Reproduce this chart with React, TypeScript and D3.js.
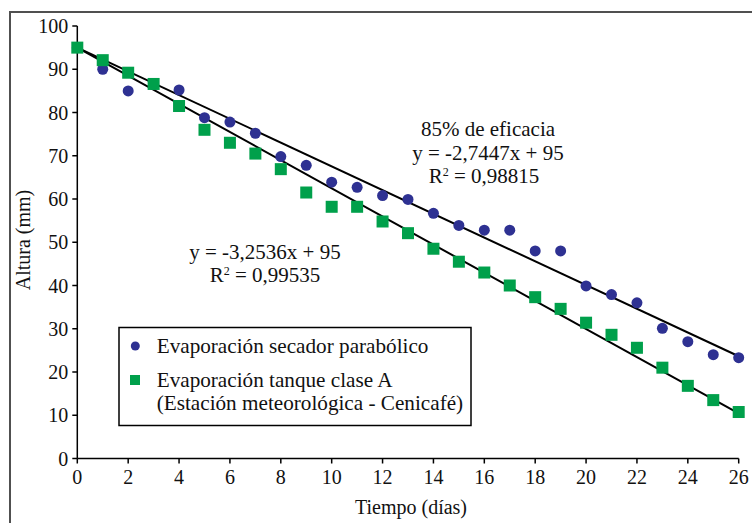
import React from "react";
import * as d3 from "d3";

const days = d3.range(0, 27);
const secador = [95, 90, 85, 86.5, 85.2, 78.8, 77.8, 75.2, 69.8, 67.8, 63.9, 62.7, 60.8, 59.9, 56.7, 53.9, 52.8, 52.8, 48, 48, 39.9, 37.9, 36.0, 30.1, 27.0, 24.0, 23.3];
const tanque = [95, 92.1, 89.2, 86.6, 81.5, 76.0, 73.0, 70.5, 66.9, 61.5, 58.2, 58.2, 54.8, 52.1, 48.5, 45.5, 43.0, 40.0, 37.3, 34.6, 31.4, 28.6, 25.6, 21.0, 16.8, 13.5, 10.75];
const fitSecador = { slope: -2.7447, intercept: 95 };
const fitTanque = { slope: -3.2536, intercept: 95 };
const xTicks = d3.range(0, 27, 2);
const yTicks = d3.range(0, 101, 10);
const legendLabels = ["Evaporación secador parabólico", "Evaporación tanque clase A", "(Estación meteorológica - Cenicafé)"];

const BLUE = "#2E3192";
const GREEN = "#00A04B";
const FONT = "'Liberation Serif', 'Times New Roman', serif";

export default function App() {
  const W = 752, H = 523;
  const x = d3.scaleLinear().domain([0, 26]).range([77.3, 738.7]);
  const y = d3.scaleLinear().domain([0, 100]).range([458.5, 26]);
  const fs = 20;
  const fa = 21;
  const fl = 21.2;
  const line = (f: { slope: number; intercept: number }) =>
    d3.line<number>().x((d) => x(d)).y((d) => y(f.slope * d + f.intercept))([0, 26]) || "";

  return (
    <svg width={W} height={H} style={{ position: "absolute", left: 0, top: 0, background: "#fff" }} fontFamily={FONT}>
      <rect x={0} y={0} width={W} height={H} fill="#fff" />
      <path d={`M10,${H + 5} L10,12 L${W + 5},12`} fill="none" stroke="#505050" strokeWidth={2} />

      {/* axes */}
      <line x1={x(0)} x2={x(0)} y1={y(0)} y2={y(100)} stroke="#000" strokeWidth={1.5} />
      <line x1={x(0)} x2={x(26)} y1={y(0)} y2={y(0)} stroke="#000" strokeWidth={1.5} />
      {yTicks.map((t) => (
        <g key={"y" + t}>
          <line x1={x(0) - 5} x2={x(0)} y1={y(t)} y2={y(t)} stroke="#000" strokeWidth={1.5} />
          <text x={x(0) - 9} y={y(t)} dy="0.35em" textAnchor="end" fontSize={fs} fill="#111">{t}</text>
        </g>
      ))}
      {xTicks.map((t) => (
        <g key={"x" + t}>
          <line x1={x(t)} x2={x(t)} y1={y(0)} y2={y(0) + 5} stroke="#000" strokeWidth={1.5} />
          <text x={x(t)} y={y(0) + 25} textAnchor="middle" fontSize={fs} fill="#111">{t}</text>
        </g>
      ))}
      <text x={411} y={514} textAnchor="middle" fontSize={fs} fill="#111">Tiempo (días)</text>
      <text transform="translate(30,240) rotate(-90)" textAnchor="middle" fontSize={fs} fill="#111">Altura (mm)</text>

      {/* trendlines */}
      <path d={line(fitSecador)} stroke="#000" strokeWidth={2} fill="none" />
      <path d={line(fitTanque)} stroke="#000" strokeWidth={2} fill="none" />

      {/* markers */}
      {days.map((d, i) => (
        <circle key={"c" + i} cx={x(d)} cy={y(secador[i])} r={5.5} fill={BLUE} />
      ))}
      {days.map((d, i) => (
        <rect key={"s" + i} x={x(d) - 6} y={y(tanque[i]) - 6} width={12} height={12} fill={GREEN} />
      ))}

      {/* annotations */}
      <text x={488} y={136} textAnchor="middle" fontSize={fa} fill="#111">85% de eficacia</text>
      <text x={488} y={160} textAnchor="middle" fontSize={fa} fill="#111">y = -2,7447x + 95</text>
      <text x={484} y={183} textAnchor="middle" fontSize={fa} fill="#111">
        R<tspan dy={-7} fontSize={12}>2</tspan><tspan dy={7}> = 0,98815</tspan>
      </text>
      <text x={265} y={259} textAnchor="middle" fontSize={fa} fill="#111">y = -3,2536x + 95</text>
      <text x={265} y={282} textAnchor="middle" fontSize={fa} fill="#111">
        R<tspan dy={-7} fontSize={12}>2</tspan><tspan dy={7}> = 0,99535</tspan>
      </text>

      {/* legend */}
      <rect x={119} y={327.5} width={352} height={98} fill="#fff" stroke="#000" strokeWidth={1.5} />
      <circle cx={135.3} cy={346} r={4.5} fill={BLUE} />
      <text x={156.7} y={353} fontSize={fl} fill="#111">{legendLabels[0]}</text>
      <rect x={130} y={375} width={10} height={10} fill={GREEN} />
      <text x={156.7} y={387} fontSize={fl} fill="#111">{legendLabels[1]}</text>
      <text x={156.7} y={410} fontSize={fl} fill="#111">{legendLabels[2]}</text>
    </svg>
  );
}
